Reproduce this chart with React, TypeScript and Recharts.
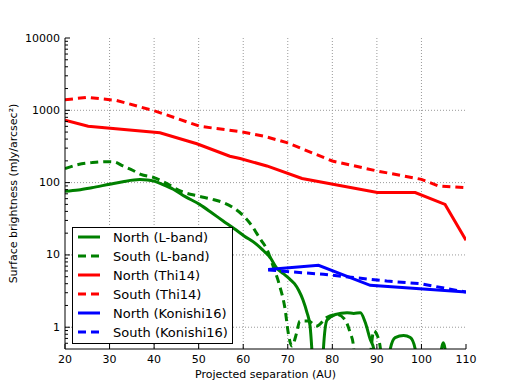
import React from "react";
import { LineChart, Line, XAxis, YAxis, CartesianGrid, Legend } from "recharts";

// separation (AU) / surface brightness (mJy/arcsec^2)
const northLBandX = [20, 23, 26, 30, 33, 36.8, 38.5, 40.2, 42, 44.3, 47, 50.2, 53, 55.5, 58, 60.2, 63, 64.5, 66, 67.5, 69, 70.5, 71.5, 72.5, 73.4, 74.3, 75, 75.4, 76, 77.6, 78, 78.8, 80.7, 83.3, 84.8, 86.3, 87.4, 88.5, 89.3, 90, 92.3, 93, 94.1, 96, 97.5, 98.6, 99.3, 103.8, 104.5, 104.9, 105.3, 106, 110];
const northLBandY = [76, 79, 85, 95, 103, 110, 109, 104, 94, 81, 64, 50, 38, 29.5, 23, 18.3, 14, 11.5, 9.3, 6.6, 5.5, 4.6, 4, 3.2, 2.4, 1.6, 1.04, 0.5, 0.1, 0.1, 0.5, 1.25, 1.5, 1.59, 1.55, 1.59, 1.16, 0.68, 0.5, 0.1, 0.1, 0.5, 0.72, 0.77, 0.72, 0.5, 0.1, 0.1, 0.5, 0.61, 0.5, 0.1, 0.1];

const southLBandX = [20, 23, 26, 29, 31, 33, 35.3, 37, 40, 43, 46, 50, 53, 55.5, 58, 60, 62, 63, 64, 65.3, 66.7, 68.2, 69.4, 70.1, 70.9, 72, 72.7, 74.6, 76.5, 78.7, 81, 82.8, 84, 84.7, 85.5, 87.5, 88.6, 89.3, 90, 90.8, 91.5];
const southLBandY = [156, 178, 189, 195, 193, 170, 147, 130, 117, 96, 76, 65, 59, 53, 44, 35, 25, 20, 16, 12, 7, 3.7, 1.77, 0.84, 0.55, 0.84, 1.22, 1.22, 1.04, 1.36, 1.5, 1.28, 0.84, 0.58, 0.1, 0.1, 0.45, 0.89, 0.79, 0.5, 0.1];

const northThiX = [20, 25.2, 41.3, 49.6, 57, 59.3, 65.3, 73.2, 90.1, 98.6, 105.3, 110];
const northThiY = [730, 602, 490, 345, 232, 215, 170, 114, 73, 73, 50, 16];

const southThiX = [20, 25, 31.6, 40.6, 50.3, 59.3, 64.5, 69.8, 80, 90, 100, 103.8, 110];
const southThiY = [1400, 1510, 1370, 960, 600, 507, 441, 357, 199, 145, 111, 90, 85];

const northKonX = [65.6, 76.9, 88.5, 110];
const northKonY = [6.3, 7.2, 3.8, 3.07];

const southKonX = [65.6, 68.3, 78, 88.5, 92.2, 99.8, 108.8, 110];
const southKonY = [6.2, 6.0, 5.4, 4.6, 4.35, 4.0, 3.16, 3.07];

const xTicks = [20, 30, 40, 50, 60, 70, 80, 90, 100, 110];
const yMajor = [1, 10, 100, 1000, 10000];
const gridX = [30, 40, 50, 60, 70, 80, 90, 100];
const gridY = [1, 10, 100, 1000];

const yAll: number[] = [0.6, 0.7, 0.8, 0.9];
for (const d of [1, 10, 100, 1000]) {
  for (let m = 1; m < 10; m++) yAll.push(d * m);
}
yAll.push(10000);

const pts = (xs: number[], ys: number[]) => xs.map((x, i) => ({ x, y: ys[i] }));

const series = [
  { name: "North (L-band)", color: "#008000", dash: undefined, type: "monotone", data: pts(northLBandX, northLBandY) },
  { name: "South (L-band)", color: "#008000", dash: "8 5", type: "monotone", data: pts(southLBandX, southLBandY) },
  { name: "North (Thi14)", color: "#ff0000", dash: undefined, type: "linear", data: pts(northThiX, northThiY) },
  { name: "South (Thi14)", color: "#ff0000", dash: "8 5", type: "linear", data: pts(southThiX, southThiY) },
  { name: "North (Konishi16)", color: "#0000ff", dash: undefined, type: "linear", data: pts(northKonX, northKonY) },
  { name: "South (Konishi16)", color: "#0000ff", dash: "8 5", type: "linear", data: pts(southKonX, southKonY) },
];

const font = "'DejaVu Sans', sans-serif";

const LeftTick = (p: any) => {
  const v = p.payload.value;
  const major = yMajor.includes(v);
  return (
    <g>
      <line x1={p.x} x2={p.x + (major ? 5 : 3)} y1={p.y} y2={p.y} stroke="#000" />
      {major && (
        <text x={p.x - 5} y={p.y} textAnchor="end" dominantBaseline="central" fontSize={11} fill="#000" fontFamily={font}>
          {v}
        </text>
      )}
    </g>
  );
};

const RightTick = (p: any) => {
  const major = yMajor.includes(p.payload.value);
  return <line x1={p.x - (major ? 5 : 3)} x2={p.x} y1={p.y} y2={p.y} stroke="#000" />;
};

const BottomTick = (p: any) => (
  <g>
    <line x1={p.x} x2={p.x} y1={p.y} y2={p.y - 5} stroke="#000" />
    <text x={p.x} y={p.y + 10} textAnchor="middle" dominantBaseline="central" fontSize={11} fill="#000" fontFamily={font}>
      {p.payload.value}
    </text>
  </g>
);

const TopTick = (p: any) => <line x1={p.x} x2={p.x} y1={p.y} y2={p.y + 5} stroke="#000" />;

const LegendBox = () => (
  <svg width={161} height={117} style={{ display: "block" }}>
    <rect x={0.5} y={0.5} width={160} height={116} fill="#fff" stroke="#000" />
    {series.map((s, i) => {
      const cy = 10 + i * 19;
      return (
        <g key={s.name}>
          <line x1={6} x2={28} y1={cy} y2={cy} stroke={s.color} strokeWidth={3} strokeDasharray={s.dash} />
          <text x={41} y={cy} dominantBaseline="central" fontSize={13} fill="#000" fontFamily={font}>
            {s.name}
          </text>
        </g>
      );
    })}
  </svg>
);

export default function App() {
  return (
    <div style={{ position: "absolute", left: 0, top: 0, fontFamily: font }}>
      <LineChart width={518} height={388} margin={{ top: 38, right: 52, bottom: 9, left: 8 }}>
        <CartesianGrid horizontalValues={gridY} verticalValues={gridX} stroke="#999" strokeDasharray="1 2" />
        <XAxis
          dataKey="x"
          type="number"
          domain={[20, 110]}
          ticks={xTicks}
          interval={0}
          allowDataOverflow
          height={30}
          tickSize={0}
          tickMargin={0}
          tickLine={false}
          tick={<BottomTick />}
          axisLine={{ stroke: "#000" }}
          label={{
            content: (lp: any) => (
              <text x={265.5} y={374} textAnchor="middle" dominantBaseline="central" fontSize={11} fill="#000" fontFamily={font}>
                Projected separation (AU)
              </text>
            ),
          }}
        />
        <XAxis
          xAxisId="top"
          orientation="top"
          type="number"
          domain={[20, 110]}
          ticks={xTicks}
          interval={0}
          allowDataOverflow
          height={0}
          tickSize={0}
          tickMargin={0}
          tickLine={false}
          tick={<TopTick />}
          axisLine={{ stroke: "#000" }}
        />
        <YAxis
          scale="log"
          type="number"
          domain={[0.5, 10000]}
          ticks={yAll}
          interval={0}
          allowDataOverflow
          width={57}
          tickSize={0}
          tickMargin={0}
          tickLine={false}
          tick={<LeftTick />}
          axisLine={{ stroke: "#000" }}
          label={{
            content: () => (
              <text x={13} y={193.5} transform="rotate(-90 13 193.5)" textAnchor="middle" dominantBaseline="central" fontSize={11} fill="#000" fontFamily={font}>
                Surface brightness (mJy/arcsec²)
              </text>
            ),
          }}
        />
        <YAxis
          yAxisId="right"
          orientation="right"
          scale="log"
          type="number"
          domain={[0.5, 10000]}
          ticks={yAll}
          interval={0}
          allowDataOverflow
          width={0}
          tickSize={0}
          tickMargin={0}
          tickLine={false}
          tick={<RightTick />}
          axisLine={{ stroke: "#000" }}
        />
        {series.map((s) => (
          <Line
            key={s.name}
            data={s.data}
            dataKey="y"
            name={s.name}
            type={s.type as any}
            stroke={s.color}
            strokeWidth={3}
            strokeDasharray={s.dash}
            dot={false}
            activeDot={false}
            isAnimationActive={false}
          />
        ))}
        <Legend
          layout="vertical"
          align="center"
          verticalAlign="middle"
          content={<LegendBox />}
          wrapperStyle={{ left: 72, top: 227, width: 161, height: 117 }}
        />
      </LineChart>
    </div>
  );
}
